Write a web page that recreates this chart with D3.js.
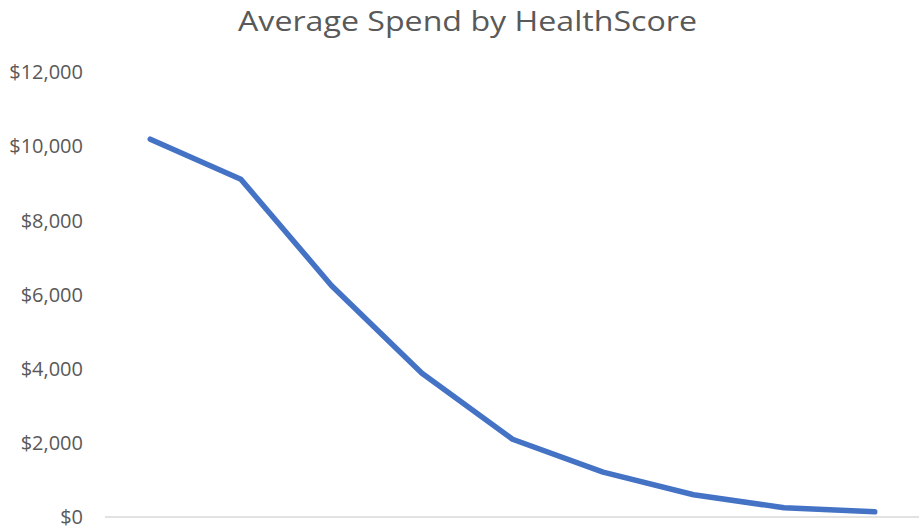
<!DOCTYPE html>
<html>
<head>
<meta charset="utf-8">
<script src="https://cdn.jsdelivr.net/npm/d3@7"></script>
<style>
  html, body { margin: 0; padding: 0; background: #fff; }
  svg { display: block; }
</style>
</head>
<body>
<svg id="chart" width="919" height="529"></svg>
<script>
// HealthScore buckets (axis labels are hidden on this chart)
const categories = ["1", "2", "3", "4", "5", "6", "7", "8", "9"];
// Average spend per bucket, in dollars
const avgSpend = [10200, 9120, 6250, 3880, 2100, 1210, 600, 250, 140];
// Value axis ticks
const yTicks = [0, 2000, 4000, 6000, 8000, 10000, 12000];

const svg = d3.select("#chart");
const W = 919, H = 529;
const plot = { left: 105, right: 920, top: 72.5, bottom: 517 };

const x = d3.scalePoint()
  .domain(categories)
  .range([plot.left, plot.right])
  .padding(0.5);

const y = d3.scaleLinear()
  .domain([0, 12000])
  .range([plot.bottom, plot.top]);

const textColor = "#595959";
const fontFamily = "'Open Sans', 'Noto Sans', sans-serif";

// Title
svg.append("text")
  .attr("x", 467.5)
  .attr("y", 30.5)
  .attr("text-anchor", "middle")
  .attr("font-family", fontFamily)
  .attr("font-size", 28)
  .attr("fill", textColor)
  .attr("textLength", 459)
  .attr("lengthAdjust", "spacingAndGlyphs")
  .text("Average Spend by HealthScore");

// Value axis (labels only, no line)
const fmt = v => "$" + d3.format(",")(v);
const yAxis = d3.axisLeft(y)
  .tickValues(yTicks)
  .tickFormat(fmt)
  .tickSize(0)
  .tickPadding(0);

const yG = svg.append("g")
  .attr("transform", `translate(83,0)`)
  .call(yAxis);
yG.select(".domain").remove();
yG.selectAll("text")
  .attr("font-family", fontFamily)
  .attr("font-size", 20)
  .attr("fill", textColor);

// Category axis baseline
svg.append("line")
  .attr("x1", plot.left)
  .attr("x2", W)
  .attr("y1", y(0))
  .attr("y2", y(0))
  .attr("stroke", "#d9d9d9")
  .attr("stroke-width", 1.5);

// Spend line
const line = d3.line()
  .x((d, i) => x(categories[i]))
  .y(d => y(d));

svg.append("path")
  .datum(avgSpend)
  .attr("d", line)
  .attr("fill", "none")
  .attr("stroke", "#4472C4")
  .attr("stroke-width", 5.5)
  .attr("stroke-linejoin", "round")
  .attr("stroke-linecap", "round");
</script>
</body>
</html>
